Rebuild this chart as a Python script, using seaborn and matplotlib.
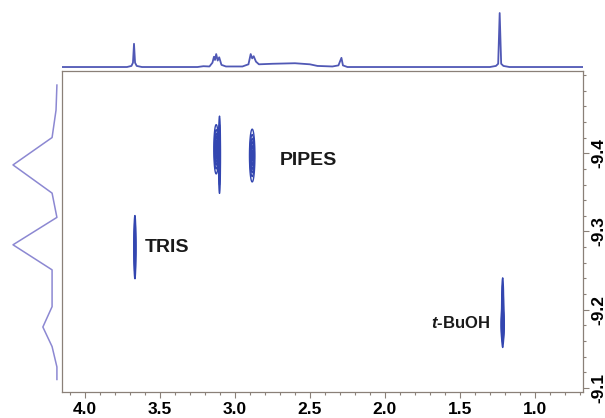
import numpy as np
import pandas as pd
import matplotlib
matplotlib.use("Agg")
import matplotlib.pyplot as plt
from matplotlib.ticker import MultipleLocator, FixedLocator
import seaborn as sns

# 1D 1H spectrum (ppm, relative intensity)
spec_ppm = [4.15, 3.72, 3.69, 3.68, 3.673, 3.666, 3.655, 3.62, 3.25, 3.21, 3.17,
            3.15, 3.14, 3.133, 3.125, 3.115, 3.105, 3.09, 3.06, 2.95, 2.91, 2.895,
            2.885, 2.875, 2.86, 2.84, 2.75, 2.6, 2.5, 2.45, 2.35, 2.31, 2.29, 2.28,
            2.25, 1.30, 1.26, 1.245, 1.235, 1.225, 1.21, 1.17, 0.68]
spec_int = [0, 0, 0.02, 0.08, 0.43, 0.08, 0.02, 0, 0, 0.015, 0.01,
            0.08, 0.19, 0.13, 0.24, 0.12, 0.18, 0.04, 0.01, 0.01, 0.05, 0.24,
            0.16, 0.20, 0.10, 0.05, 0.06, 0.07, 0.05, 0.02, 0.01, 0.03, 0.17, 0.03,
            0, 0, 0.02, 0.06, 1.0, 0.06, 0.02, 0, 0]

# diffusion projection on the left (log D, relative intensity)
proj_logd = [-9.487, -9.455, -9.420, -9.385, -9.349, -9.318, -9.283, -9.251,
             -9.204, -9.178, -9.153, -9.127, -9.111]
proj_int = [0, 0.02, 0.11, 1.0, 0.11, 0.0, 1.0, 0.11, 0.11, 0.32, 0.11, 0, 0]

# DOSY cross peaks: chemical shift, log D, widths, height
peak_ppm = [3.667, 3.125, 3.103, 2.885, 1.215, 1.215]
peak_logd = [-9.280, -9.405, -9.398, -9.397, -9.197, -9.181]
peak_wppm = [0.003, 0.007, 0.003, 0.008, 0.003, 0.005]
peak_wlogd = [0.018, 0.014, 0.023, 0.015, 0.0195, 0.010]
peak_h = [1.0, 1.0, 0.8, 1.0, 1.0, 0.8]

logd_ticks = [-9.4, -9.3, -9.2, -9.1]

labels = ["PIPES", "TRIS", "$\\mathit{t}$-BuOH"]
label_ppm = [2.70, 3.60, 1.30]
label_logd = [-9.391, -9.280, -9.183]
label_size = [14, 14, 12]

plt.rcParams["font.family"] = ["Liberation Sans", "DejaVu Sans"]
plt.rcParams["mathtext.fontset"] = "custom"
plt.rcParams["mathtext.it"] = "Liberation Sans:italic:bold"

line_col = "#5058b5"
cont_col = "#3346b0"
proj_col = "#8c88d2"
frame_col = "#8a8078"

fig = plt.figure(figsize=(6.05, 4.18), dpi=100)
ax = fig.add_axes([0.1025, 0.0622, 0.861, 0.768])
ax_top = fig.add_axes([0.1025, 0.8325, 0.861, 0.1435], sharex=ax)
ax_left = fig.add_axes([0.0, 0.0622, 0.099, 0.768], sharey=ax)

# contour map
xx = np.linspace(4.153, 0.68, 1800)
yy = np.linspace(-9.505, -9.09, 400)
X, Y = np.meshgrid(xx, yy)
Z = np.zeros_like(X)
for p, d, wp, wd, h in zip(peak_ppm, peak_logd, peak_wppm, peak_wlogd, peak_h):
    Z += h * np.exp(-0.5 * ((X - p) / wp) ** 2 - 0.5 * ((Y - d) / wd) ** 2)
ax.contour(X, Y, Z, levels=[0.08, 0.2, 0.35, 0.5, 0.7, 0.9],
           colors=cont_col, linewidths=1.0)

for t, px, py, fs in zip(labels, label_ppm, label_logd, label_size):
    ax.text(px, py, t, fontsize=fs, fontweight="bold", color="#1a1a1a",
            ha="right" if "BuOH" in t else "left", va="center")

ax.set_xlim(4.153, 0.68)
ax.set_ylim(-9.095, -9.505)
ax.xaxis.set_major_locator(MultipleLocator(0.5))
ax.xaxis.set_minor_locator(MultipleLocator(0.1))
ax.yaxis.set_major_locator(FixedLocator(logd_ticks))
ax.yaxis.set_minor_locator(MultipleLocator(0.02))
ax.xaxis.set_major_formatter(plt.FormatStrFormatter("%.1f"))
ax.yaxis.set_major_formatter(plt.FormatStrFormatter("%.1f"))
ax.yaxis.tick_right()
ax.tick_params(axis="both", which="both", direction="out", color=frame_col,
               labelsize=12.5, width=0.8)
ax.tick_params(which="major", length=4)
ax.tick_params(which="minor", length=2.5)
ax.tick_params(axis="x", pad=3)
ax.tick_params(axis="y", labelrotation=90, pad=2)
for lab in ax.get_xticklabels() + ax.get_yticklabels():
    lab.set_fontweight("bold")
for lab in ax.get_yticklabels():
    lab.set_va("center")
for s in ax.spines.values():
    s.set_color(frame_col)
    s.set_linewidth(0.9)

# top 1D spectrum
df_top = pd.DataFrame({"ppm": spec_ppm, "I": spec_int})
sns.lineplot(data=df_top, x="ppm", y="I", ax=ax_top, color=line_col,
             linewidth=1.3, estimator=None, sort=False)
ax_top.set_ylim(-0.0556, 1.0556)
ax_top.axis("off")

# left diffusion projection
df_left = pd.DataFrame({"logD": proj_logd, "I": proj_int})
sns.lineplot(data=df_left, x="I", y="logD", ax=ax_left, color=proj_col,
             linewidth=1.1, estimator=None, sort=False, orient="y")
ax_left.set_xlim(1.296, -0.068)
ax_left.axis("off")

ax.set_xlim(4.153, 0.68)
ax.set_ylim(-9.095, -9.505)

fig.savefig("out.png", dpi=100, facecolor="white")
